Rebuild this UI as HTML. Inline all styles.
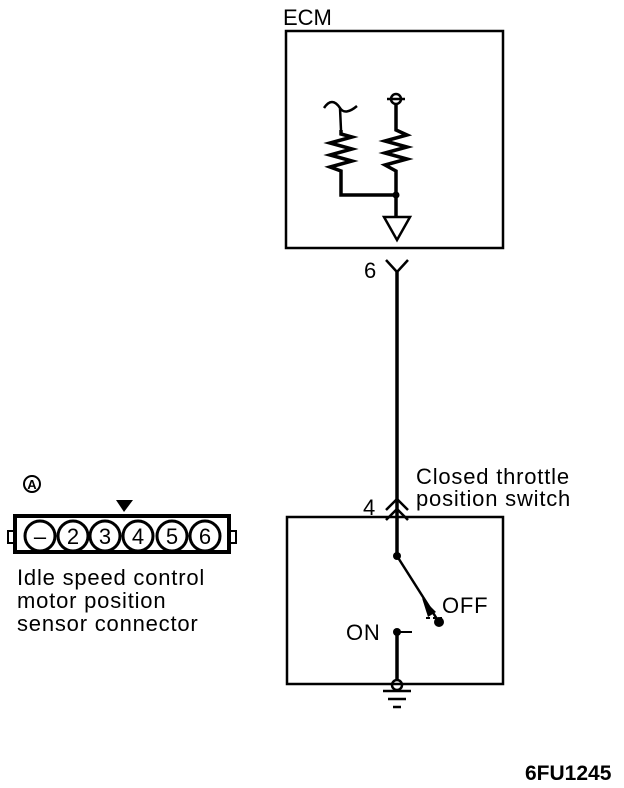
<!DOCTYPE html>
<html><head><style>
body{margin:0;background:#fff;}
svg{display:block;font-family:"Liberation Sans",sans-serif;}
</style></head><body>
<svg width="624" height="788" viewBox="0 0 624 788">
<g fill="none" stroke="#000" stroke-width="2.5">
<rect x="286" y="31" width="217" height="217"/>
<path d="M324,108 Q332,96 340,108 L341,130 M340,108 Q345,116 357,106"/>
<path d="M341,130 L341,134 L352,137 L330,143 L352,149 L330,155 L352,161 L330,167 L341,171 L341,195 L396,195" stroke-width="3.5"/>
<circle cx="396" cy="99" r="5"/>
<path d="M387,99 H405"/>
<path d="M396,104 L396,130 L407,135 L385,141 L407,147 L385,153 L407,159 L385,165 L396,171 L396,217" stroke-width="3.5"/>
<path d="M384,217 H410 L397,240 Z"/>
<path d="M386,260 L397,272 L408,260"/>
<path d="M397,272 V520" stroke-width="3.5"/>
<rect x="287" y="517" width="216" height="167"/>
<path d="M386,510 L397,499 L408,510 M386,520 L397,509 L408,520"/>
<path d="M397,520 V556" stroke-width="3.5"/>
<path d="M397,556 L437,619" stroke-width="2.5"/>
<path d="M426,618 L442,618" stroke-dasharray="4 3" stroke-width="2"/>
<path d="M397,632 H412" stroke-width="2"/>
<path d="M397,632 V680" stroke-width="3.5"/>
<circle cx="397" cy="685" r="5"/>
<path d="M383,691 H411 M388,699 H406 M393,707 H401"/>
</g>
<circle cx="397" cy="556" r="4"/>
<circle cx="397" cy="632" r="4"/>
<circle cx="439" cy="622" r="5"/>
<path d="M422,598 L436,612 L428,617 Z"/>
<circle cx="396" cy="195" r="3.5"/>
<rect x="13" y="514" width="218" height="40" fill="#000"/>
<rect x="17" y="518" width="210" height="32" fill="#fff"/>
<rect x="8" y="531" width="6" height="12" fill="none" stroke="#000" stroke-width="2"/>
<rect x="230" y="531" width="6" height="12" fill="none" stroke="#000" stroke-width="2"/>
<path d="M116,500 H133 L124,512 Z" fill="#000"/>
<g fill="#fff" stroke="#000" stroke-width="3">
<circle cx="40" cy="536" r="15"/><circle cx="73" cy="536" r="15"/><circle cx="105" cy="536" r="15"/>
<circle cx="138" cy="536" r="15"/><circle cx="172" cy="536" r="15"/><circle cx="205" cy="536" r="15"/>
</g>
<g font-size="22" text-anchor="middle">
<text x="40" y="544">–</text><text x="73" y="544">2</text><text x="105" y="544">3</text>
<text x="138" y="544">4</text><text x="172" y="544">5</text><text x="205" y="544">6</text>
</g>
<circle cx="32" cy="484" r="8" fill="none" stroke="#000" stroke-width="2"/>
<text x="32" y="489" font-size="13" text-anchor="middle" font-weight="bold">A</text>
<g font-size="22" letter-spacing="0.8">
<text x="17" y="585">Idle speed control</text>
<text x="17" y="608">motor position</text>
<text x="17" y="631">sensor connector</text>
<text x="283" y="25" letter-spacing="0">ECM</text>
<text x="364" y="278">6</text>
<text x="416" y="484">Closed throttle</text>
<text x="416" y="506">position switch</text>
<text x="363" y="515">4</text>
<text x="442" y="613">OFF</text>
<text x="346" y="640">ON</text>
</g>
<text x="525" y="780" font-size="21" font-weight="bold">6FU1245</text>
</svg>
</body></html>
